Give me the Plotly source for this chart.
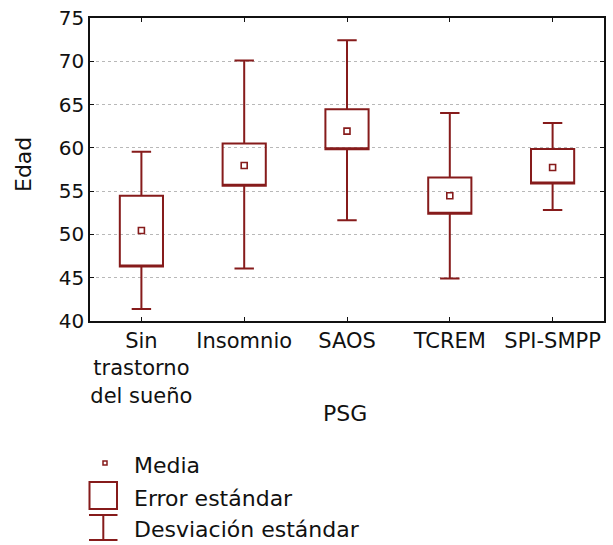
import plotly.graph_objects as go

categories = ["Sin trastorno del sueño", "Insomnio", "SAOS", "TCREM", "SPI-SMPP"]
tick_labels = ["Sin<br>trastorno<br>del sueño", "Insomnio", "SAOS", "TCREM", "SPI-SMPP"]
means = [50.46, 57.97, 61.93, 54.47, 57.73]
se_low = [46.3, 55.63, 59.83, 52.4, 55.87]
se_high = [54.47, 60.5, 64.46, 56.57, 59.87]
sd_low = [41.4, 46.07, 51.63, 44.9, 52.83]
sd_high = [59.56, 70.1, 72.43, 64.03, 62.87]
y_ticks = [40, 45, 50, 55, 60, 65, 70, 75]
legend_labels = ["Media", "Error estándar", "Desviación estándar"]

MAROON = "#861b1b"
FONT = "DejaVu Sans"
W, H = 613, 545
L, T = 90, 18
R = W - 604
B = H - 321
PW, PH = W - L - R, H - T - B


def px(x):
    return (x - L) / PW


def py(y):
    return (H - B - y) / PH


fig = go.Figure()
fig.add_trace(go.Box(
    x=categories, q1=se_low, median=se_low, q3=se_high,
    lowerfence=sd_low, upperfence=sd_high,
    width=0.42, whiskerwidth=0.45,
    fillcolor="rgba(0,0,0,0)", line=dict(color=MAROON, width=2),
    boxpoints=False, showlegend=False, hoverinfo="skip",
))
fig.add_trace(go.Scatter(
    x=categories, y=means, mode="markers", showlegend=False,
    marker=dict(symbol="square-open", size=6, color=MAROON, line=dict(width=1.6, color=MAROON)),
))

# legend drawn manually
shapes = []
shapes.append(dict(type="rect", xref="paper", yref="paper",
                   x0=px(103), x1=px(107), y0=py(465), y1=py(461),
                   line=dict(color=MAROON, width=1.5)))
shapes.append(dict(type="rect", xref="paper", yref="paper",
                   x0=px(89.5), x1=px(117), y0=py(509), y1=py(482),
                   line=dict(color=MAROON, width=2)))
for yy in (515, 540):
    shapes.append(dict(type="line", xref="paper", yref="paper",
                       x0=px(89), x1=px(117.5), y0=py(yy), y1=py(yy),
                       line=dict(color=MAROON, width=2)))
shapes.append(dict(type="line", xref="paper", yref="paper",
                   x0=px(103.3), x1=px(103.3), y0=py(515), y1=py(540),
                   line=dict(color=MAROON, width=2)))

annotations = []
for lab, yy in zip(legend_labels, (465, 498, 529)):
    annotations.append(dict(text=lab, xref="paper", yref="paper", x=px(132), y=py(yy),
                            xanchor="left", yanchor="middle", showarrow=False,
                            font=dict(family=FONT, size=22, color="#111")))
annotations.append(dict(text="PSG", xref="paper", yref="paper", x=px(345), y=py(413),
                        xanchor="center", yanchor="middle", showarrow=False,
                        font=dict(family=FONT, size=22, color="#111")))
annotations.append(dict(text="Edad", xref="paper", yref="paper", x=px(23.5), y=py(164.5),
                        xanchor="center", yanchor="middle", showarrow=False, textangle=-90,
                        font=dict(family=FONT, size=22, color="#111")))

fig.update_layout(
    width=W, height=H,
    margin=dict(l=L, r=R, t=T, b=B, pad=0, autoexpand=False),
    paper_bgcolor="white", plot_bgcolor="white",
    font=dict(family=FONT, size=20, color="#111"),
    shapes=shapes, annotations=annotations,
    xaxis=dict(
        type="category", categoryorder="array", categoryarray=categories,
        range=[-0.5, 4.5], tickvals=categories, ticktext=tick_labels,
        tickfont=dict(family=FONT, size=21, color="#111"),
        ticklabeloverflow="allow", automargin=False,
        showline=True, linecolor="#111", linewidth=1.5, mirror="ticks",
        ticks="inside", ticklen=4, tickcolor="#111", showgrid=False, zeroline=False,
    ),
    yaxis=dict(
        range=[40, 75], tickvals=y_ticks, ticktext=[str(v) for v in y_ticks],
        tickfont=dict(family=FONT, size=20, color="#111"),
        ticklabeloverflow="allow", automargin=False,
        showline=True, linecolor="#111", linewidth=1.5, mirror="ticks",
        ticks="inside", ticklen=4, tickcolor="#111",
        showgrid=True, gridcolor="#b8b8b8", griddash="dot", gridwidth=1, zeroline=False,
    ),
)

fig.write_html("out.html", config={"displayModeBar": False},
               post_script="document.body.style.margin='0';")
